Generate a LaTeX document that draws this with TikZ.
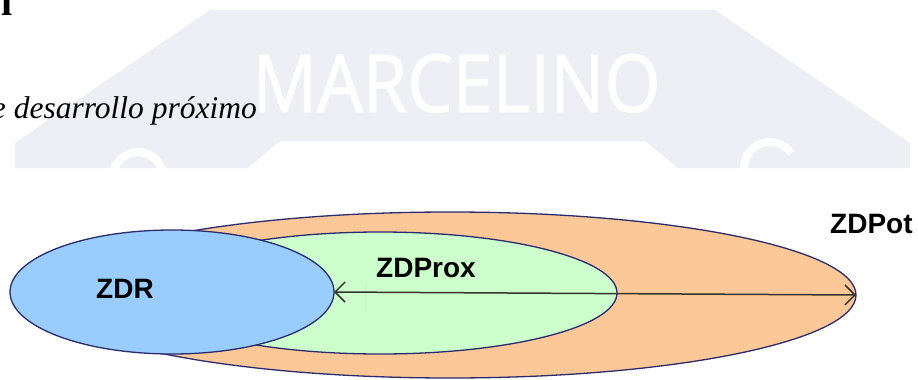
\documentclass[tikz,border=0pt]{standalone}
\usepackage{fontspec}
\setmainfont{Liberation Serif}
\newfontfamily\arialfont{Liberation Sans}
\newfontfamily\wmfont[FakeBold=1.2]{Open Sans}
\usetikzlibrary{shapes.geometric,arrows.meta}
\definecolor{potfill}{HTML}{FCC898}
\definecolor{proxfill}{HTML}{CCFFCC}
\definecolor{zdrfill}{HTML}{99CCFF}
\definecolor{edgec}{HTML}{2A2A6E}
\definecolor{wm}{HTML}{EEEFF4}
\definecolor{arrowc}{HTML}{34342A}
\definecolor{tickc}{HTML}{E8E890}
\begin{document}
\begin{tikzpicture}[x=1pt,y=-1pt,
  zone/.style={ellipse, draw=edgec, line width=1.3pt, inner sep=0pt, outer sep=0pt},
  lbl/.style={font=\arialfont\bfseries\fontsize{28}{28}\selectfont, anchor=base west, inner sep=0pt},
  span/.style={draw=arrowc, line width=1.5pt, {Straight Barb[length=10pt,width=20pt]}-{Straight Barb[length=10pt,width=20pt]}},
  wheel/.style={draw=white, line width=8pt}]
\useasboundingbox (0,0) rectangle (918,380);
\fill[white] (0,0) rectangle (918,380);
% watermark
\fill[wm] (210,10) -- (715,10) -- (910,143) -- (910,168) -- (678,168) -- (645,141)
  -- (280,141) -- (248,168) -- (15,168) -- (15,143) -- cycle;
\begin{scope}
  \clip (0,0) rectangle (918,168);
  \draw[wheel] (138,177) circle[radius=25];
  \draw[wheel] (770,168) ++(150:26) arc[start angle=150, end angle=325, radius=26];
\end{scope}
\node[anchor=base west, inner sep=0pt, text=white, font=\wmfont\fontsize{80}{80}\selectfont] (wmark) at (252,112) {\scalebox{0.9}[1]{MARCELINO}};
% heading fragments
\node[anchor=base west, inner sep=0pt, font=\bfseries\fontsize{40}{40}\selectfont] (hl) at (1,15) {l};
\node[anchor=base east, inner sep=0pt, font=\itshape\fontsize{31.5}{31.5}\selectfont] (sub) at (257,118) {e desarrollo próximo};
% zones
\node[zone, fill=potfill, minimum width=812pt, minimum height=166pt] (pot) at (450,295) {};
\node[zone, fill=proxfill, minimum width=474pt, minimum height=122pt] (prox) at (380,293) {};
\node[zone, fill=zdrfill, minimum width=324pt, minimum height=124pt] (zdr) at (172,292) {};
\draw[tickc, line width=0.8pt] (365,284) -- (365,310);
\draw[span] (zdr.east) -- (pot.east);
\node[lbl] (lzdr) at (96,298) {ZDR};
\node[lbl] (lprox) at (376,277) {ZDProx};
\node[lbl] (lpot) at (830,233) {ZDPot};
\end{tikzpicture}
\end{document}
